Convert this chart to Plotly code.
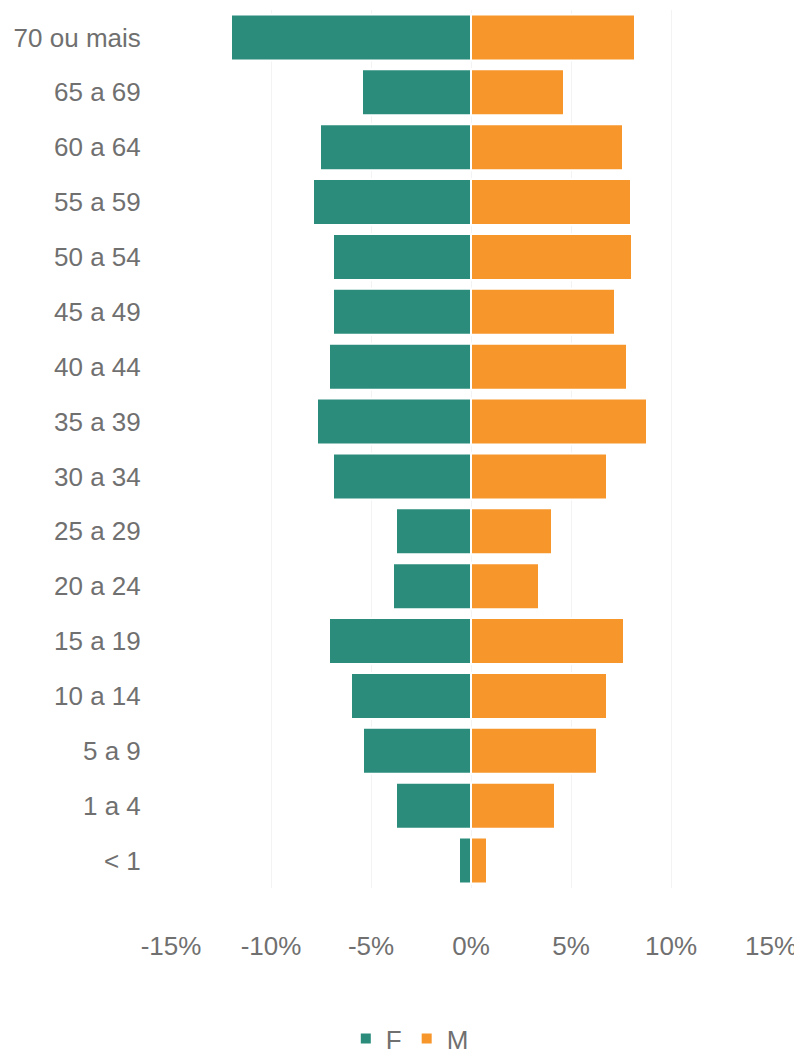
import plotly.graph_objects as go

age_groups = ["70 ou mais", "65 a 69", "60 a 64", "55 a 59", "50 a 54", "45 a 49",
              "40 a 44", "35 a 39", "30 a 34", "25 a 29", "20 a 24", "15 a 19",
              "10 a 14", "5 a 9", "1 a 4", "< 1"]
female_pct = [12.0, 5.45, 7.55, 7.9, 6.9, 6.9, 7.1, 7.7, 6.9, 3.75, 3.9, 7.1,
              6.0, 5.4, 3.75, 0.6]
male_pct = [8.2, 4.65, 7.6, 8.0, 8.05, 7.2, 7.8, 8.8, 6.8, 4.05, 3.4, 7.65,
            6.8, 6.3, 4.2, 0.8]
tick_vals = [-15, -10, -5, 0, 5, 10, 15]
tick_text = ["-15%", "-10%", "-5%", "0%", "5%", "10%", "15%"]

FONT = "Liberation Sans, Arial, sans-serif"
TEAL = "#2b8c7c"
ORANGE = "#f7962b"

fig = go.Figure()
fig.add_trace(go.Bar(
    y=age_groups, x=[-v for v in female_pct], name="F", orientation="h",
    marker=dict(color=TEAL, line=dict(color="white", width=2)),
))
fig.add_trace(go.Bar(
    y=age_groups, x=male_pct, name="M", orientation="h",
    marker=dict(color=ORANGE, line=dict(color="white", width=2)),
))

fig.update_layout(
    width=794, height=1048,
    margin=dict(l=163, r=31, t=2, b=168, autoexpand=False),
    paper_bgcolor="white", plot_bgcolor="white",
    barmode="relative", bargap=0.16,
    font=dict(family=FONT, size=26, color="#707070"),
    showlegend=True,
    legend=dict(orientation="h", x=0.398, y=-0.1715, xanchor="center", yanchor="middle",
                font=dict(size=26, color="#707070"), itemwidth=30,
                traceorder="normal"),
    xaxis=dict(range=[-15, 15], tickvals=tick_vals, ticktext=tick_text,
               showgrid=True, gridcolor="#f3f3f3", gridwidth=1, zeroline=False,
               ticks="outside", ticklen=35, tickcolor="rgba(0,0,0,0)",
               showline=False, automargin=False),
    yaxis=dict(categoryorder="array", categoryarray=age_groups, autorange="reversed",
               showgrid=False, zeroline=False, ticks="outside", ticklen=24,
               tickcolor="rgba(0,0,0,0)", showline=False, automargin=False),
)

fig.write_html("out.html")
